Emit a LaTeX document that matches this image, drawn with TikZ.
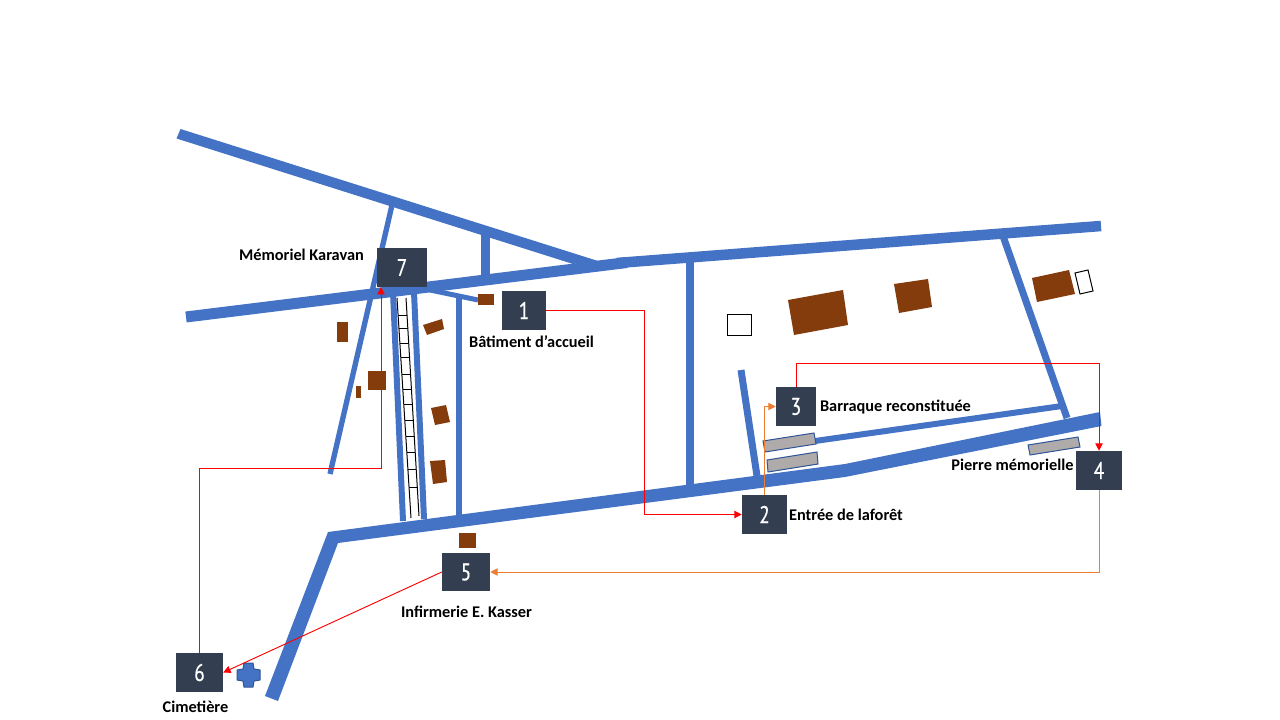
\documentclass[tikz,border=0pt]{standalone}
\usepackage{fontspec}
\setmainfont{Carlito}
\newfontfamily\digitfont[FakeStretch=.8,FakeBold=.6]{PT Sans}
\usetikzlibrary{arrows.meta}
\definecolor{roadblue}{HTML}{4472C4}
\definecolor{edgeblue}{HTML}{2F5597}
\definecolor{hutbrown}{HTML}{843C0C}
\definecolor{stonegray}{HTML}{AFABAB}
\definecolor{stopdark}{HTML}{333F50}
\definecolor{routeorange}{HTML}{ED7D31}
\tikzset{
  road/.style={draw=roadblue,line width=#1},
  hut/.style={fill=hutbrown},
  stone/.style={fill=stonegray,draw=edgeblue,line width=.75pt},
  plainhut/.style={fill=white,draw=black,line width=.75pt},
  stopbox/.style={fill=stopdark,text=white,inner sep=0pt,minimum height=29.25pt,
    font=\digitfont\fontsize{18}{18}\selectfont},
  place/.style={font=\fontsize{12.25}{14}\selectfont\bfseries,inner sep=0pt},
  redroute/.style={draw=red,line width=.7pt,-{Triangle[length=5.5pt,width=5.5pt]}},
  orangeroute/.style={draw=routeorange,line width=.7pt,-{Triangle[length=5.5pt,width=5.5pt]}}
}
\begin{document}
\begin{tikzpicture}[x=.75pt,y=-.75pt]
  \useasboundingbox (0,0) rectangle (1280,720);
  % roads
  \fill [roadblue] (180.5,129) -- (598,261) -- (573,264) -- (176.5,138.5) -- cycle;
  \draw [road=8.25pt] (186,317) -- (627,262.5);
  \draw [road=7.9pt] (617,263) -- (1101,226);
  \fill [roadblue] (1100,412) -- (845,464) -- (328,532) -- (265,696) -- (278,701)
    -- (338,543) -- (845,477) -- (1101.5,426) -- cycle;
  \draw [road=6.75pt] (485,232) -- (485,277);
  \draw [road=6pt] (690,262) -- (690,485);
  \draw [road=5.25pt] (741,370) -- (757,476);
  \draw [road=5.25pt] (1003,236) -- (1067,418);
  \draw [road=4.5pt] (815,441) -- (1062,406);
  \draw [road=4.5pt] (459,296) -- (459,516);
  \draw [road=4pt] (392,205) -- (330,474);
  \draw [road=4.5pt] (393,292) -- (403,521);
  \draw [road=4.5pt] (414,292) -- (424,519);
  \draw [road=3.75pt] (430,290) -- (478,300);
  % rails
  \draw [line width=.75pt] (397,298) -- (411,518);
  \draw [line width=.75pt] (406,298) -- (419,516);
  \foreach \y in {315,328,343,357,374,389,404,420,436,452,469,487} {
    \pgfmathsetmacro{\xa}{397+(\y-298)*14/220}
    \pgfmathsetmacro{\xb}{406+(\y-298)*13/218}
    \draw [line width=.6pt] (\xa,\y) -- (\xb,\y);
  }
  % buildings
  \fill [hut] (478,294) rectangle (494,305);
  \fill [hut] (337,322) rectangle (348,342);
  \fill [hut] (368,371) rectangle (386,390);
  \fill [hut] (356,386) rectangle (361,398);
  \fill [hut] (423,325) -- (442,319) -- (444,329) -- (427,335) -- cycle;
  \fill [hut] (431,408) -- (446,405) -- (450,422) -- (435,425) -- cycle;
  \fill [hut] (430,461) -- (445,460) -- (447,482) -- (433,484) -- cycle;
  \fill [hut] (459,533) rectangle (476,548);
  \fill [hut] (788,300) -- (843,290) -- (848,325) -- (794,335) -- cycle;
  \fill [hut] (894,284) -- (928,279) -- (932,307) -- (899,313) -- cycle;
  \fill [hut] (1032,278) -- (1069,270) -- (1075,294) -- (1037,302) -- cycle;
  \draw [plainhut] (1075,273) -- (1088,270) -- (1093,291) -- (1080,294) -- cycle;
  \draw [plainhut] (727,314) rectangle (751,335);
  \draw [stone] (763,441) -- (814,433) -- (816,444) -- (765,452) -- cycle;
  \draw [stone] (767,460) -- (817,452) -- (818,464) -- (768,472) -- cycle;
  \draw [stone] (1028,445) -- (1078,437) -- (1080,447) -- (1030,455) -- cycle;
  % cross
  \filldraw [fill=roadblue,draw=edgeblue,line width=.75pt]
    (244,663) -- (253,663) -- (254,669) -- (260,670) -- (260,680) -- (254,681)
    -- (253,687) -- (244,687) -- (243,681) -- (237,680) -- (237,670) -- (243,669) -- cycle;
  % stops
  \node [stopbox,minimum width=33pt] (stop1) at (524,310.5) {1};
  \node [stopbox,minimum width=33.75pt] (stop2) at (764.5,514.5) {2};
  \node [stopbox,minimum width=30pt] (stop3) at (796,406.5) {3};
  \node [stopbox,minimum width=34.5pt] (stop4) at (1099,470.5) {4};
  \node [stopbox,minimum width=36pt,minimum height=28.5pt] (stop5) at (466,572) {5};
  \node [stopbox,minimum width=35.25pt] (stop6) at (199.5,672.5) {6};
  \node [stopbox,minimum width=37.5pt] (stop7) at (402,267.5) {7};
  \coordinate (foot7) at (381,287);
  % labels
  \node [place] (name7) at (301.5,254.5) {Mémoriel Karavan};
  \node [place] (name1) at (531.5,341.5) {Bâtiment d’accueil};
  \node [place] (name3) at (895.5,407.5) {Barraque reconstituée};
  \node [place] (name2) at (846,514.5) {Entrée de laforêt};
  \node [place] (name4) at (1012.5,464.5) {Pierre mémorielle};
  \node [place] (name5) at (466.5,611.5) {Infirmerie E. Kasser};
  \node [place] (name6) at (195.5,706.5) {Cimetière};
  % route
  \draw [redroute] (stop1.east) -- ++(98,0) |- (stop2.west);
  \draw [orangeroute] (stop2.north) |- (stop3.west);
  \draw [redroute] (stop3.north) -- ++(0,-23.5) -| (stop4.north);
  \draw [orangeroute] (stop4.south) |- (stop5.east);
  \draw [redroute] (stop5.west) -- (stop6.east);
  \draw [redroute] (stop6.north) -- ++(0,-184) -| (foot7);
\end{tikzpicture}
\end{document}
